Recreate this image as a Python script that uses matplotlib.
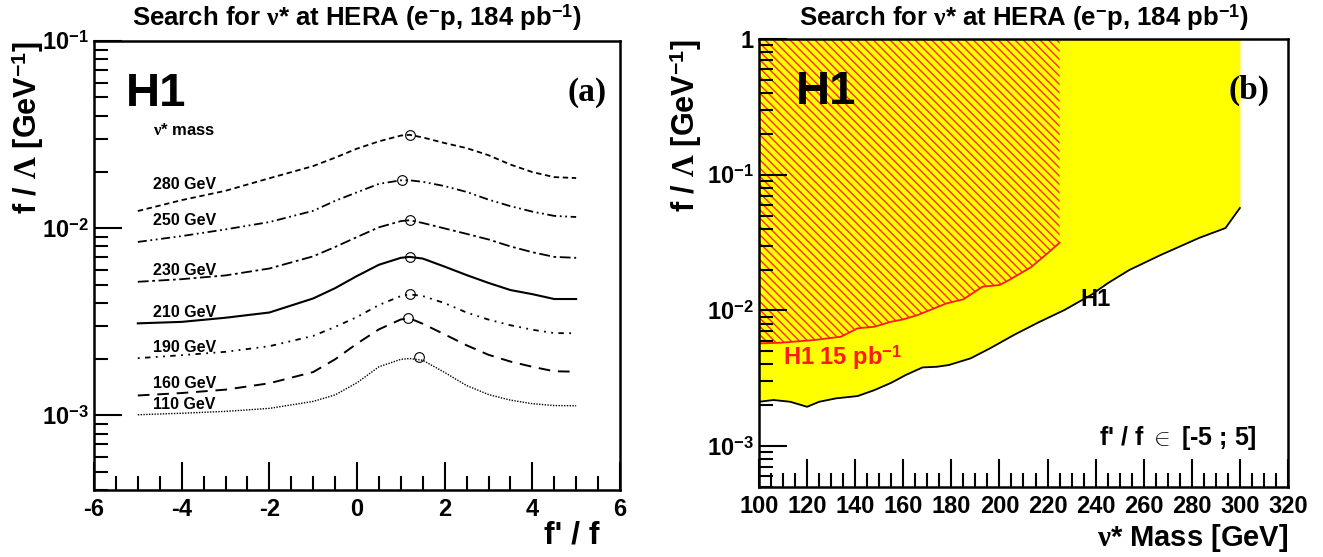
import numpy as np
import matplotlib
matplotlib.use('Agg')
from matplotlib import pyplot as plt
from matplotlib.ticker import FixedLocator, MultipleLocator, NullFormatter, FixedFormatter

plt.rcParams['font.family'] = ['Liberation Sans', 'DejaVu Sans']
plt.rcParams['font.weight'] = 'bold'
plt.rcParams['axes.unicode_minus'] = False
plt.rcParams['mathtext.fontset'] = 'custom'
plt.rcParams['mathtext.rm'] = 'Liberation Sans:bold'
plt.rcParams['mathtext.bf'] = 'Liberation Sans:bold'
plt.rcParams['mathtext.it'] = 'Liberation Serif'
plt.rcParams['mathtext.cal'] = 'Liberation Serif'
plt.rcParams['hatch.linewidth'] = 1.0

# ---- panel (a): limits vs f'/f for several nu* masses ----
ratio = [-5, -4, -3, -2, -1, -0.5, 0, 0.5, 1, 1.2, 1.5, 2, 2.5, 3, 3.5, 4, 4.5, 5]

lim_280 = [0.01236, 0.01413, 0.01585, 0.01849, 0.02148, 0.02382, 0.02661, 0.02911, 0.03126,
           0.03155, 0.03055, 0.02851, 0.02679, 0.02455, 0.02188, 0.01995, 0.01875, 0.01854]
lim_250 = [0.00845, 0.00908, 0.00986, 0.01079, 0.01239, 0.01400, 0.01556, 0.01726, 0.01803,
           0.01803, 0.01770, 0.01679, 0.01563, 0.01422, 0.01312, 0.01227, 0.01164, 0.01148]
lim_230 = [0.005176, 0.005346, 0.005598, 0.006095, 0.007079, 0.007943, 0.008974, 0.010116, 0.010914,
           0.011041, 0.010666, 0.009977, 0.009333, 0.008710, 0.007998, 0.007447, 0.007031, 0.006950]
lim_210 = [0.003105, 0.003162, 0.003327, 0.003548, 0.004217, 0.004786, 0.005559, 0.006383, 0.006950,
           0.007031, 0.006887, 0.006237, 0.005623, 0.005105, 0.004677, 0.004446, 0.004188, 0.004188]
lim_190 = [0.002023, 0.002099, 0.002188, 0.002344, 0.002661, 0.002972, 0.003357, 0.003890, 0.004345,
           0.004436, 0.004345, 0.003981, 0.003548, 0.003251, 0.003034, 0.002871, 0.002754, 0.002748]
lim_160 = [0.001279, 0.001318, 0.001374, 0.001486, 0.001706, 0.001995, 0.002421, 0.002884, 0.003258,
           0.003304, 0.003090, 0.002710, 0.002371, 0.002109, 0.001941, 0.001820, 0.001722, 0.001714]
lim_110 = [0.001009, 0.001028, 0.001052, 0.001091, 0.001189, 0.001288, 0.001496, 0.001820, 0.001995,
           0.002014, 0.001972, 0.001698, 0.001445, 0.001294, 0.001208, 0.001156, 0.001130, 0.001127]

mass_labels = ['280 GeV', '250 GeV', '230 GeV', '210 GeV', '190 GeV', '160 GeV', '110 GeV']
label_y = [0.01714, 0.01104, 0.00597, 0.00356, 0.00232, 0.001476, 0.00114]

# best limit (open circle) for each mass
best_x = [1.22, 1.02, 1.2, 1.2, 1.22, 1.16, 1.41]
best_y = [0.0315, 0.0180, 0.01104, 0.00703, 0.00444, 0.00330, 0.00205]

# ---- panel (b): exclusion vs mass ----
h1_mass = [100, 106, 113, 120, 125, 132, 141, 148, 155, 161, 168, 174, 179, 188, 196, 206,
           216, 227, 238, 245, 254, 267, 283, 294, 300]
h1_lim = [0.002123, 0.002188, 0.002123, 0.001950, 0.002123, 0.002249, 0.002339, 0.002588, 0.002931,
          0.003342, 0.003802, 0.003846, 0.003963, 0.004436, 0.005248, 0.006592, 0.008128, 0.010069,
          0.012972, 0.015849, 0.019861, 0.025586, 0.034198, 0.040458, 0.056885]
old_mass = [100, 109, 123, 134, 141, 148, 155, 160, 166, 171, 178, 185, 193, 200, 204, 213, 220, 225]
old_lim = [0.005715, 0.005781, 0.006053, 0.006397, 0.007379, 0.007586, 0.008260, 0.008590, 0.009247,
           0.010046, 0.011272, 0.012078, 0.014962, 0.015382, 0.016749, 0.020749, 0.026363, 0.031550]

W, H = 1323, 557
fig = plt.figure(figsize=(13.23, 5.57), dpi=100)


def px_axes(l, r, t, b):
    return fig.add_axes([l / W, 1 - b / H, (r - l) / W, (b - t) / H])


def style_axes(ax):
    for s in ax.spines.values():
        s.set_linewidth(1.8)
    ax.tick_params(which='both', direction='in', top=False, right=False, width=1.5, labelsize=17)
    ax.tick_params(axis='x', which='major', length=20, pad=6)
    ax.tick_params(axis='y', which='major', length=20, pad=4)
    ax.tick_params(which='minor', length=10)


title = r'Search for $\nu$* at HERA (e$^{-}$p, 184 pb$^{-1}$)'

# panel (a)
ax1 = px_axes(94, 620, 41, 490)
curves = [lim_280, lim_250, lim_230, lim_210, lim_190, lim_160, lim_110]
styles = [(0, (3, 2)), (0, (5, 2, 1, 2, 1, 2)), (0, (6, 2, 1.5, 2)), '-',
          (0, (1, 3, 3, 3, 1, 3)), (0, (6, 4)), (0, (1, 1))]
widths = [1.3, 1.3, 1.3, 1.5, 1.3, 1.4, 1.0]
for yv, ls, lw in zip(curves, styles, widths):
    ax1.plot(ratio, yv, color='black', ls=ls, lw=lw)
ax1.plot(best_x, best_y, 'o', ms=7, mfc='none', mec='black', mew=0.8)
for lab, yl in zip(mass_labels, label_y):
    ax1.text(-4.65, yl, lab, fontsize=11.5, fontweight='bold', va='center', ha='left')
ax1.text(-4.65, 0.0335, r'$\nu$* mass', fontsize=12, fontweight='bold', va='center', ha='left')
ax1.set_yscale('log')
ax1.set_xlim(-6, 6)
ax1.set_ylim(4e-4, 0.1)
ax1.xaxis.set_major_locator(MultipleLocator(2))
ax1.xaxis.set_minor_locator(MultipleLocator(0.5))
ax1.yaxis.set_major_locator(FixedLocator([1e-3, 1e-2, 1e-1]))
ax1.yaxis.set_major_formatter(FixedFormatter(['10$^{-3}$', '10$^{-2}$', '10$^{-1}$']))
ax1.yaxis.set_minor_locator(FixedLocator([k * 10.0 ** e for e in (-4, -3, -2) for k in range(2, 10)]))
ax1.yaxis.set_minor_formatter(NullFormatter())
style_axes(ax1)
ax1.text(0.06, 0.93, 'H1', transform=ax1.transAxes, fontsize=34, fontweight='bold', va='top')
ax1.text(0.975, 0.92, '(a)', transform=ax1.transAxes, fontsize=24, fontweight='bold',
         family='Liberation Serif', va='top', ha='right')
fig.text((94 + 620) / 2 / W, 1 - 18 / H, title, fontsize=18.5, fontweight='bold', ha='center', va='center')
fig.text(600 / W, 1 - 536 / H, "f' / f", fontsize=23, fontweight='bold', ha='right', va='center')
fig.text(28 / W, 1 - 41 / H, r'f / $\mathcal{\Lambda}$ [GeV$^{-1}$]', fontsize=22, fontweight='bold',
         rotation=90, ha='center', va='top')

# panel (b)
ax2 = px_axes(759, 1288, 39, 487)
ax2.fill_between(h1_mass, h1_lim, 1, color='#ffff00', lw=0)
ax2.fill_between(old_mass, old_lim, 1, facecolor='none', edgecolor='#ff2a1a', hatch='\\\\\\\\', lw=0)
ax2.plot(old_mass, old_lim, color='#ff1a1a', lw=1.3)
ax2.plot(h1_mass, h1_lim, color='black', lw=1.3)
ax2.set_yscale('log')
ax2.set_xlim(100, 320)
ax2.set_ylim(5e-4, 1)
ax2.xaxis.set_major_locator(MultipleLocator(20))
ax2.xaxis.set_minor_locator(MultipleLocator(5))
ax2.yaxis.set_major_locator(FixedLocator([1e-3, 1e-2, 1e-1, 1]))
ax2.yaxis.set_major_formatter(FixedFormatter(['10$^{-3}$', '10$^{-2}$', '10$^{-1}$', '1']))
ax2.yaxis.set_minor_locator(FixedLocator([k * 10.0 ** e for e in (-4, -3, -2, -1) for k in range(2, 10)]))
ax2.yaxis.set_minor_formatter(NullFormatter())
style_axes(ax2)
ax2.text(0.07, 0.93, 'H1', transform=ax2.transAxes, fontsize=34, fontweight='bold', va='top')
ax2.text(0.965, 0.92, '(b)', transform=ax2.transAxes, fontsize=24, fontweight='bold',
         family='Liberation Serif', va='top', ha='right')
ax2.text(110, 0.0045, 'H1 15 pb$^{-1}$', color='#ff1a1a', fontsize=17, fontweight='bold', va='center')
ax2.text(240, 0.012, 'H1', fontsize=17, fontweight='bold', va='center', ha='center')
ax2.text(307, 0.00115, r"f' / f $\in$ [-5 ; 5]", fontsize=18, fontweight='bold', va='center', ha='right')
fig.text((759 + 1288) / 2 / W, 1 - 18 / H, title, fontsize=18.5, fontweight='bold', ha='center', va='center')
fig.text(1288 / W, 1 - 538 / H, r'$\nu$* Mass [GeV]', fontsize=21, fontweight='bold', ha='right', va='center')
fig.text(686 / W, 1 - 39 / H, r'f / $\mathcal{\Lambda}$ [GeV$^{-1}$]', fontsize=22, fontweight='bold',
         rotation=90, ha='center', va='top')

fig.savefig('out.png', dpi=100)
